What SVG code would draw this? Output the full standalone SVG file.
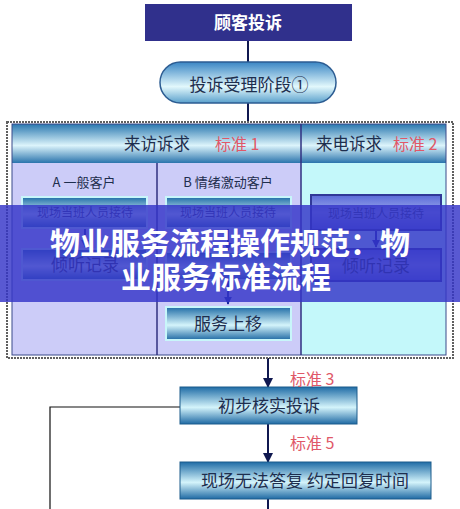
<svg xmlns="http://www.w3.org/2000/svg" width="460" height="509" viewBox="0 0 460 509">
<defs>
<linearGradient id="gBand" x1="0" y1="0" x2="0" y2="1">
<stop offset="0" stop-color="#2a78b0"/><stop offset="0.55" stop-color="#dcf4fb"/><stop offset="1" stop-color="#2a74ac"/>
</linearGradient>
<linearGradient id="gBox" x1="0" y1="0" x2="0" y2="1">
<stop offset="0" stop-color="#1f6ca6"/><stop offset="0.55" stop-color="#d4f4fb"/><stop offset="1" stop-color="#1f6aa4"/>
</linearGradient>
<linearGradient id="gPill" x1="0" y1="0" x2="0" y2="1">
<stop offset="0" stop-color="#3a86c4"/><stop offset="0.6" stop-color="#e2f8fc"/><stop offset="1" stop-color="#5aa0cc"/>
</linearGradient>
<linearGradient id="gBlue" x1="0" y1="0" x2="0" y2="1">
<stop offset="0" stop-color="#5a6ad8"/><stop offset="0.5" stop-color="#9aa8ec"/><stop offset="1" stop-color="#5a6ad8"/>
</linearGradient>
<marker id="arr" viewBox="0 0 10 10" refX="9" refY="5" markerWidth="5" markerHeight="5" orient="auto" markerUnits="strokeWidth">
<path d="M0,0 L10,5 L0,10 z" fill="#101850"/>
</marker>
<marker id="arrB" viewBox="0 0 10 10" refX="9" refY="5" markerWidth="4" markerHeight="4" orient="auto" markerUnits="strokeWidth">
<path d="M0,0 L10,5 L0,10 z" fill="#1a2aa0"/>
</marker>
</defs>
<style>
.cjk{font-family:"Noto Sans CJK SC","Noto Sans",sans-serif;}
.t{font-size:17px;fill:#1e2e4e;text-anchor:middle;}
.red{font-size:16px;fill:#e05868;}
.s{font-size:12px;fill:#2a3a6e;text-anchor:middle;}
.m{font-size:13px;fill:#1e2e4e;text-anchor:middle;}
.box{fill:url(#gBox);stroke:#1c5c8c;stroke-width:1;}
.cbox{fill:url(#gBox);stroke:#c8f6fa;stroke-width:2;}
.ln{stroke:#101850;stroke-width:2;fill:none;}
.thin{stroke:#101010;stroke-width:1.2;fill:none;}
</style>
<rect width="460" height="509" fill="#ffffff"/>

<g id="connectors">
<line class="ln" x1="248" y1="41" x2="248" y2="62"/>
<line class="ln" x1="248" y1="103" x2="248" y2="123"/>
<line class="ln" x1="268" y1="358" x2="268" y2="387" marker-end="url(#arr)"/>
<line class="ln" x1="268" y1="424" x2="268" y2="462" marker-end="url(#arr)"/>
<line class="ln" x1="268" y1="499" x2="268" y2="509"/>
<polyline class="thin" points="180,407 50,407 50,509"/>
</g>

<g id="n1">
<rect x="145" y="4" width="207" height="37" fill="#30308c"/>
<text class="cjk" x="248" y="29" font-size="17" font-weight="bold" fill="#ffffff" text-anchor="middle">顾客投诉</text>
</g>

<g id="n2">
<rect x="160" y="62" width="176" height="41" rx="20.5" fill="url(#gPill)" stroke="#2c5c92" stroke-width="1.5"/>
<text class="cjk t" x="249" y="91">投诉受理阶段①</text>
</g>

<g id="frame">
<rect x="7" y="122" width="446" height="236" fill="none" stroke="#606060" stroke-width="2" stroke-dasharray="2,1"/>
<rect x="12" y="163" width="145" height="192" fill="#ccccf8"/>
<rect x="157" y="163" width="144" height="192" fill="#ccccf8"/>
<rect x="301" y="163" width="145" height="192" fill="#c4f8fa"/>
<rect x="12" y="124" width="434" height="39" fill="url(#gBand)"/>
<rect x="12" y="124" width="434" height="231" fill="none" stroke="#3a4a8a" stroke-width="1"/>
<line x1="157" y1="163" x2="157" y2="355" stroke="#303080" stroke-width="1.5"/>
<line x1="301" y1="124" x2="301" y2="355" stroke="#303080" stroke-width="1.5"/>
<text class="cjk" x="124" y="150" font-size="16.5" fill="#1e2e4e">来访诉求</text>
<text class="cjk red" x="215" y="150">标准 1</text>
<text class="cjk" x="316" y="150" font-size="16.5" fill="#1e2e4e">来电诉求</text>
<text class="cjk red" x="393" y="150">标准 2</text>
<text class="cjk m" x="84" y="187">A 一般客户</text>
<text class="cjk m" x="228" y="187">B 情绪激动客户</text>
</g>

<g id="colA">
<rect class="cbox" x="22" y="197" width="125" height="31"/>
<text class="cjk s" x="85" y="217">现场当班人员接待</text>
<line x1="85" y1="229" x2="85" y2="247" stroke="#1a2aa0" stroke-width="2" marker-end="url(#arrB)"/>
<rect class="cbox" x="22" y="249" width="125" height="31"/>
<text class="cjk t" x="85" y="271">倾听记录</text>
</g>

<g id="colB">
<rect class="cbox" x="166" y="197" width="125" height="31"/>
<text class="cjk s" x="228" y="217">现场当班人员接待</text>
<line x1="228" y1="229" x2="228" y2="250" stroke="#1a2aa0" stroke-width="2" marker-end="url(#arrB)"/>
<rect class="cbox" x="166" y="252" width="125" height="28"/>
<line x1="228" y1="281" x2="228" y2="304" stroke="#1a2aa0" stroke-width="2" marker-end="url(#arrB)"/>
<rect class="cbox" x="166" y="307" width="125" height="33"/>
<text class="cjk t" x="228" y="330">服务上移</text>
</g>

<g id="colC">
<rect x="311" y="195" width="130" height="35" fill="url(#gBlue)" stroke="#303898" stroke-width="2"/>
<text class="cjk s" x="376" y="218">现场当班人员接待</text>
<line x1="376" y1="231" x2="376" y2="247" stroke="#1a2aa0" stroke-width="2" marker-end="url(#arrB)"/>
<rect x="311" y="249" width="130" height="32" fill="url(#gBlue)" stroke="#303898" stroke-width="2"/>
<text class="cjk t" x="376" y="272">倾听记录</text>
</g>

<g id="n3">
<rect class="box" x="180" y="387" width="177" height="37"/>
<text class="cjk t" x="269" y="412">初步核实投诉</text>
<text class="cjk red" x="290" y="385">标准 3</text>
</g>

<g id="n4">
<rect class="box" x="180" y="462" width="251" height="37"/>
<text class="cjk t" x="305" y="487">现场无法答复 约定回复时间</text>
<text class="cjk red" x="290" y="449">标准 5</text>
</g>

<g id="overlay">
<rect x="0" y="205" width="460" height="97" fill="#3434c8" fill-opacity="0.82"/>
<text class="cjk" x="230" y="254" font-size="30" font-weight="bold" fill="#ffffff" text-anchor="middle">物业服务流程操作规范：物</text>
<text class="cjk" x="226" y="288" font-size="30" font-weight="bold" fill="#ffffff" text-anchor="middle">业服务标准流程</text>
</g>
</svg>
